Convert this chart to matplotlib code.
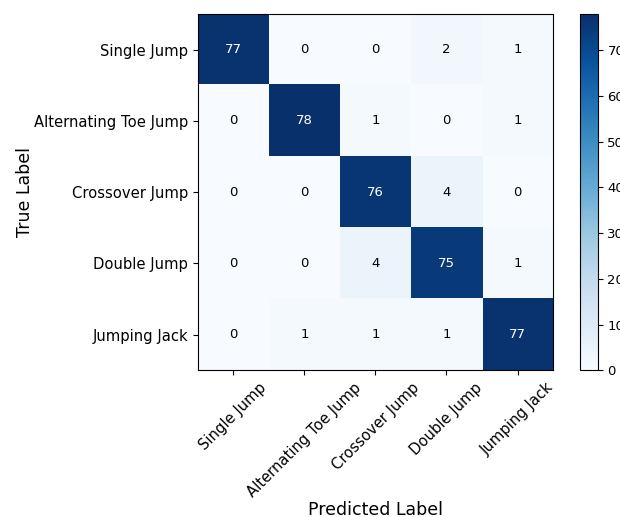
import numpy as np
import matplotlib.pyplot as plt

classes = ["Single Jump", "Alternating Toe Jump", "Crossover Jump", "Double Jump", "Jumping Jack"]
cm = np.array([
    [77, 0, 0, 2, 1],
    [0, 78, 1, 0, 1],
    [0, 0, 76, 4, 0],
    [0, 0, 4, 75, 1],
    [0, 1, 1, 1, 77],
])

fig = plt.figure(figsize=(6.2, 5.17), dpi=100)
ax = fig.add_axes([0.319, 0.284, 0.573, 0.689])
cax = fig.add_axes([0.935, 0.284, 0.029, 0.689])

im = ax.imshow(cm, cmap="Blues", vmin=0, vmax=cm.max(), aspect="auto")
cb = fig.colorbar(im, cax=cax)
cb.ax.tick_params(labelsize=9.5)

thresh = cm.max() / 2.0
for i in range(cm.shape[0]):
    for j in range(cm.shape[1]):
        ax.text(j, i, str(cm[i, j]), ha="center", va="center", fontsize=9.5,
                color="white" if cm[i, j] > thresh else "black")

ax.set_xticks(range(len(classes)))
ax.set_yticks(range(len(classes)))
ax.set_xticklabels(classes, rotation=45, fontsize=10.6)
ax.set_yticklabels(classes, fontsize=10.6)
ax.set_xlabel("Predicted Label", fontsize=12.5, labelpad=1)
ax.set_ylabel("True Label", fontsize=12.5, labelpad=0)

fig.savefig("out.png", dpi=100)
